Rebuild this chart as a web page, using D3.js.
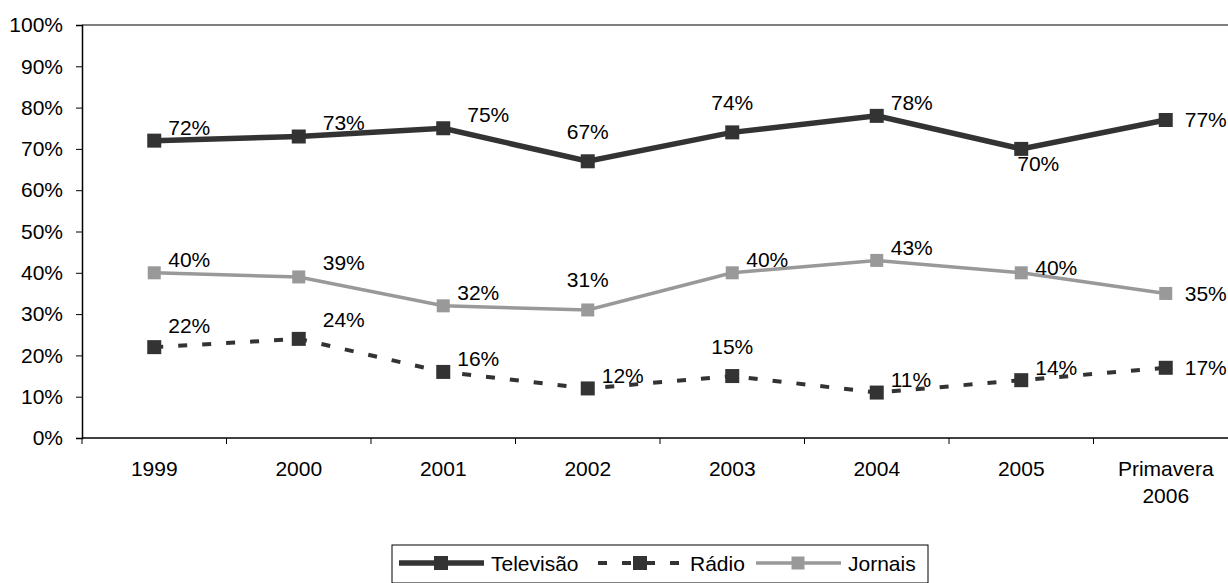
<!DOCTYPE html>
<html>
<head>
<meta charset="utf-8">
<script src="https://cdn.jsdelivr.net/npm/d3@7/dist/d3.min.js"></script>
<style>
  html, body { margin: 0; padding: 0; background: #fff; }
  svg { display: block; font-family: "Liberation Sans", Arial, sans-serif; }
</style>
</head>
<body>
<svg id="chart" width="1228" height="583"></svg>
<script>
// ---- data ----
const categories = ["1999", "2000", "2001", "2002", "2003", "2004", "2005", "Primavera 2006"];
const televisao = [72, 73, 75, 67, 74, 78, 70, 77];
const radio = [22, 24, 16, 12, 15, 11, 14, 17];
const jornais = [40, 39, 32, 31, 40, 43, 40, 35];
const yTickValues = [0, 10, 20, 30, 40, 50, 60, 70, 80, 90, 100];
const seriesNames = ["Televisão", "Rádio", "Jornais"];
// label placement codes per point
const televisaoLabelPos = ["ur", "ur2", "ur2", "a", "a", "ur", "br", "r"];
const radioLabelPos = ["ur3", "ur4", "ur", "ur", "a", "ur", "ur", "r"];
const jornaisLabelPos = ["ur", "ur2", "ur", "a", "ur", "ur", "ur5", "r"];

// ---- layout ----
const FS = 21;
const svg = d3.select("#chart");
const mLeft = 82, mTop = 25, mBottom = 438;
const band = 144.5;
const mRight = mLeft + band * categories.length;

const x = d3.scaleBand().domain(categories).range([mLeft, mRight]).paddingInner(0).paddingOuter(0);
const y = d3.scaleLinear().domain([0, 100]).range([mBottom, mTop]);
const cx = c => x(c) + x.bandwidth() / 2;

const offsets = {
  ur: [14, -13], ur2: [24, -14], ur3: [14, -22], ur4: [24, -19], ur5: [14, -5],
  a: [0, -30], br: [-4, 15], r: [19, 0]
};

// top frame line
svg.append("line").attr("x1", mLeft).attr("x2", mRight).attr("y1", mTop).attr("y2", mTop)
  .attr("stroke", "#808080").attr("stroke-width", 2);

// y axis
const yAxis = d3.axisLeft(y).tickValues(yTickValues).tickFormat(d => d + "%").tickSize(6).tickPadding(13);
const gy = svg.append("g").attr("transform", `translate(${mLeft},0)`).call(yAxis);
gy.select(".domain").attr("stroke", "#000").attr("stroke-width", 1.5);
gy.selectAll(".tick line").attr("stroke", "#000");
gy.selectAll(".tick text").attr("font-size", FS).attr("fill", "#000").attr("font-family", "Liberation Sans, Arial, sans-serif");

// x axis (ticks at band boundaries)
svg.append("line").attr("x1", mLeft).attr("x2", mRight).attr("y1", mBottom).attr("y2", mBottom)
  .attr("stroke", "#000").attr("stroke-width", 1.5);
svg.append("g").selectAll("line").data(categories).join("line")
  .attr("x1", d => x(d)).attr("x2", d => x(d))
  .attr("y1", mBottom).attr("y2", mBottom + 6).attr("stroke", "#000");
const xl = svg.append("g").selectAll("text").data(categories).join("text")
  .attr("x", d => cx(d)).attr("y", 468)
  .attr("text-anchor", "middle").attr("dominant-baseline", "central")
  .attr("font-size", FS).attr("fill", "#000");
xl.each(function(d) {
  const parts = d.split(" ");
  const t = d3.select(this);
  parts.forEach((p, i) => t.append("tspan").attr("x", cx(d)).attr("dy", i === 0 ? 0 : 27).text(p));
});

// ---- series ----
const series = [
  { name: seriesNames[2], values: jornais, pos: jornaisLabelPos, color: "#999999", width: 3.5, dash: null, m: 13 },
  { name: seriesNames[1], values: radio, pos: radioLabelPos, color: "#333333", width: 4, dash: "9,15", m: 14 },
  { name: seriesNames[0], values: televisao, pos: televisaoLabelPos, color: "#333333", width: 5.5, dash: null, m: 14 }
];
const line = d3.line().x((d, i) => cx(categories[i])).y(d => y(d));

series.forEach(s => {
  svg.append("path").datum(s.values).attr("d", line)
    .attr("fill", "none").attr("stroke", s.color).attr("stroke-width", s.width)
    .attr("stroke-dasharray", s.dash);
  svg.append("g").selectAll("rect").data(s.values).join("rect")
    .attr("x", (d, i) => cx(categories[i]) - s.m / 2)
    .attr("y", d => y(d) - s.m / 2)
    .attr("width", s.m).attr("height", s.m).attr("fill", s.color);
});
series.forEach(s => {
  svg.append("g").selectAll("text").data(s.values).join("text")
    .attr("x", (d, i) => cx(categories[i]) + offsets[s.pos[i]][0])
    .attr("y", (d, i) => y(d) + offsets[s.pos[i]][1])
    .attr("text-anchor", (d, i) => s.pos[i] === "a" ? "middle" : "start")
    .attr("dominant-baseline", "central")
    .attr("font-size", FS).attr("fill", "#000")
    .text(d => d + "%");
});

// ---- legend ----
const lg = svg.append("g");
lg.append("rect").attr("x", 392).attr("y", 545).attr("width", 536).attr("height", 38)
  .attr("fill", "#fff").attr("stroke", "#000").attr("stroke-width", 1);
const legendItems = [
  { s: series[2], x0: 399 },
  { s: series[1], x0: 598 },
  { s: series[0], x0: 756 }
];
legendItems.forEach(it => {
  const s = it.s, ly = 563;
  lg.append("line").attr("x1", it.x0).attr("x2", it.x0 + 85).attr("y1", ly).attr("y2", ly)
    .attr("stroke", s.color).attr("stroke-width", s.width).attr("stroke-dasharray", s.dash);
  lg.append("rect").attr("x", it.x0 + 42 - s.m / 2).attr("y", ly - s.m / 2)
    .attr("width", s.m).attr("height", s.m).attr("fill", s.color);
  lg.append("text").attr("x", it.x0 + 92).attr("y", ly).attr("dominant-baseline", "central")
    .attr("font-size", FS).attr("fill", "#000").text(s.name);
});
</script>
</body>
</html>
